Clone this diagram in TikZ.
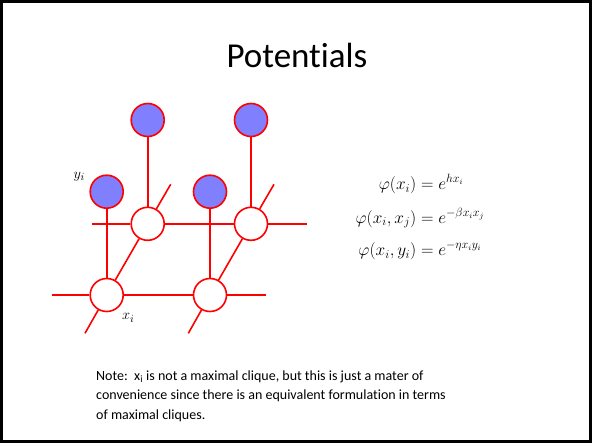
\documentclass[tikz,border=0pt]{standalone}
\usepackage{amsmath}
\usepackage{fontspec}
\setmainfont{Carlito}[Ligatures={NoCommon}]
\usetikzlibrary{backgrounds}
\definecolor{mrfred}{RGB}{255,0,0}
\definecolor{mrfblue}{RGB}{128,128,255}
\tikzset{
  obs/.style={circle, draw=mrfred, fill=mrfblue, line width=1.6pt, minimum size=33pt, inner sep=0pt},
  hid/.style={circle, draw=mrfred, fill=white, line width=1.6pt, minimum size=33pt, inner sep=0pt},
  mrfline/.style={draw=mrfred, line width=1.6pt},
  frame/.style={draw=black, line width=2.6pt}
}
\begin{document}
\begin{tikzpicture}[x=1pt,y=-1pt]
\useasboundingbox (0,0) rectangle (592,444);
\draw[frame] (1.3,1.3) rectangle (590.2,441.2);
\node[font=\fontsize{35}{40}\selectfont] (title) at (297,55) {Potentials};
% nodes
\node[obs] (ta) at (147.7,120) {};
\node[obs] (tb) at (251,120) {};
\node[obs] (ma) at (106.7,191.7) {};
\node[obs] (mb) at (210,191.7) {};
\node[hid] (ua) at (147.7,223.8) {};
\node[hid] (ub) at (251,223.8) {};
\node[hid] (la) at (106.7,295) {};
\node[hid] (lb) at (210,295) {};
\coordinate (hUL) at (92.3,223.8);
\coordinate (hUR) at (306.7,223.8);
\coordinate (hLL) at (51.7,295);
\coordinate (hLR) at (266,295);
\coordinate (dA1) at (170.7,184.3);
\coordinate (dA2) at (85,333.3);
\coordinate (dB1) at (274,184.3);
\coordinate (dB2) at (188.3,333.3);
\begin{scope}[on background layer]
\draw[mrfline] (hUL) -- (ua) (ua) -- (ub) (ub) -- (hUR);
\draw[mrfline] (hLL) -- (la) (la) -- (lb) (lb) -- (hLR);
\draw[mrfline] (ta) -- (ua);
\draw[mrfline] (tb) -- (ub);
\draw[mrfline] (ma) -- (la);
\draw[mrfline] (mb) -- (lb);
\draw[mrfline] (dA1) -- (ua) -- (la) -- (dA2);
\draw[mrfline] (dB1) -- (ub) -- (lb) -- (dB2);
\end{scope}
\node[font=\fontsize{15}{18}\selectfont] (ylab) at (79.3,177) {$y_i$};
\node[font=\fontsize{15}{18}\selectfont] (xlab) at (128.3,318) {$x_i$};
\node[font=\fontsize{16.5}{20}\selectfont] (eqs) at (420,218) {$\begin{aligned}
\varphi(x_i) &= e^{hx_i}\\[8pt]
\varphi(x_i,x_j) &= e^{-\beta x_i x_j}\\[8pt]
\varphi(x_i,y_i) &= e^{-\eta x_i y_i}
\end{aligned}$};
\node[anchor=north west, align=left, inner sep=0pt, font=\fontsize{14}{19.3}\selectfont] (note) at (96,370.5) {Note:\ \ x\textsubscript{i} is not a maximal clique, but this is just a mater of\\ convenience since there is an equivalent formulation in terms\\ of maximal cliques.};
\end{tikzpicture}
\end{document}
